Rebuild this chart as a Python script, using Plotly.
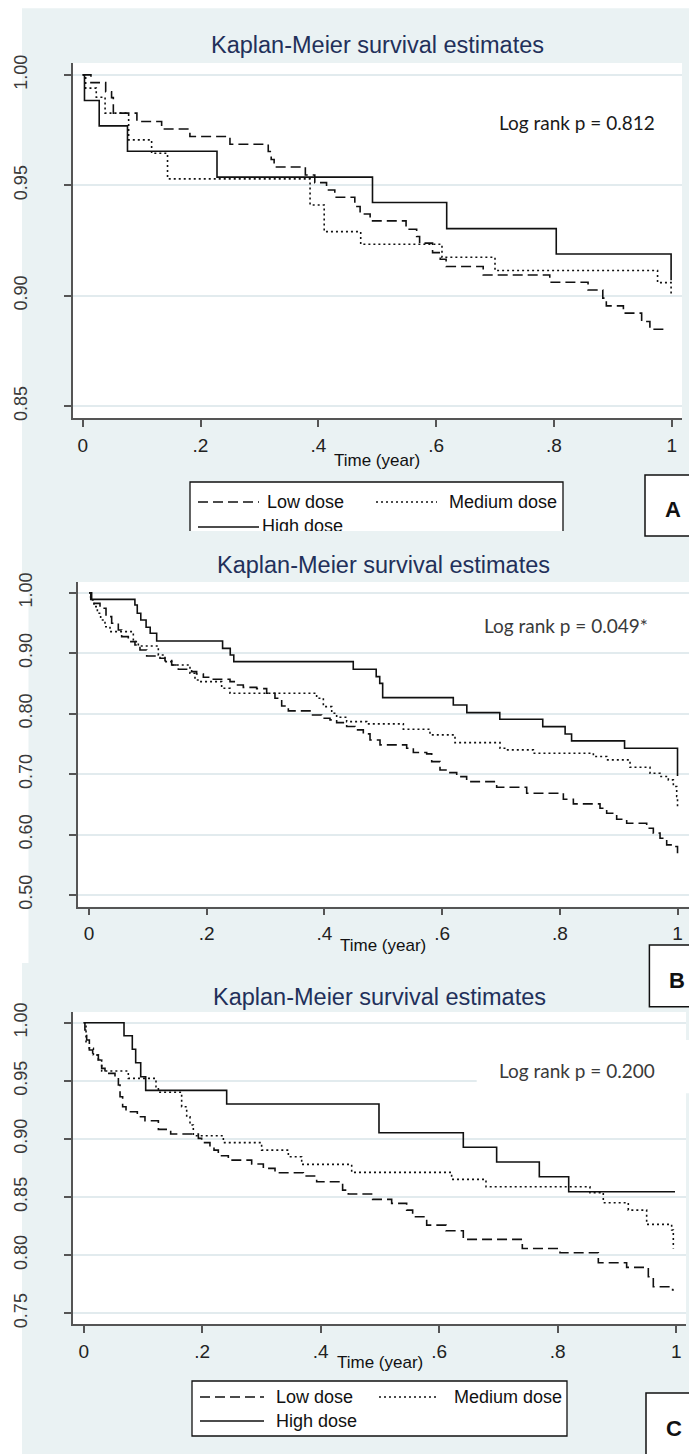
import plotly.graph_objects as go

W, H = 689, 1454
BG = "#EAF2F3"
GRID = "#E2EBEE"
AX = "#555555"
INK = "#111111"
FONT = "Liberation Sans, Arial, sans-serif"
NOTE_FONT = "Lato, Open Sans, sans-serif"
TITLE_COLOR = "#22305A"

# ---------------- data ----------------
time_ticks = [0, 0.2, 0.4, 0.6, 0.8, 1.0]
time_labels = ["0", ".2", ".4", ".6", ".8", "1"]
groups = ["Low dose", "Medium dose", "High dose"]

# Panel A
a_low_t = [0, 0.014, 0.039, 0.049, 0.052, 0.092, 0.134, 0.182, 0.250, 0.315, 0.320, 0.325, 0.378, 0.394,
           0.414, 0.428, 0.462, 0.471, 0.488, 0.549, 0.567, 0.572, 0.594, 0.607, 0.617, 0.680, 0.793,
           0.858, 0.883, 0.889, 0.918, 0.949, 0.963, 0.993]
a_low_s = [1.0, 0.9965, 0.9924, 0.9897, 0.9827, 0.9789, 0.9755, 0.9721, 0.9686, 0.9653, 0.9617, 0.9583,
           0.9547, 0.9512, 0.9479, 0.9446, 0.9404, 0.9370, 0.9339, 0.9301, 0.9268, 0.9238, 0.9195, 0.9165,
           0.9132, 0.9094, 0.9061, 0.9026, 0.8989, 0.8954, 0.8921, 0.8883, 0.8848, 0.8848]
a_med_t = [0, 0.005, 0.023, 0.038, 0.078, 0.117, 0.144, 0.386, 0.410, 0.472, 0.610, 0.700, 0.976, 0.999]
a_med_s = [1.0, 0.9940, 0.9899, 0.9827, 0.9706, 0.9645, 0.9529, 0.9411, 0.9290, 0.9233, 0.9174, 0.9114,
           0.9059, 0.8996]
a_high_t = [0, 0.003, 0.028, 0.076, 0.228, 0.492, 0.618, 0.804, 0.999]
a_high_s = [1.0, 0.9884, 0.9769, 0.9654, 0.9537, 0.9422, 0.9304, 0.9189, 0.9070]
a_yticks = [0.85, 0.90, 0.95, 1.00]
a_ylabels = ["0.85", "0.90", "0.95", "1.00"]
a_note = "Log rank p = 0.812"

# Panel B
b_low_t = [0, 0.0045, 0.0187, 0.0289, 0.0385, 0.0498, 0.0555, 0.0668, 0.0781, 0.0866, 0.0980, 0.1206,
           0.1291, 0.1405, 0.1518, 0.1744, 0.1829, 0.1943, 0.2112, 0.2396, 0.2509, 0.2622, 0.2849, 0.3019,
           0.3160, 0.3274, 0.3387, 0.3755, 0.3953, 0.4095, 0.4208, 0.4378, 0.4520, 0.4661, 0.4775, 0.4945,
           0.5398, 0.5511, 0.5738, 0.5823, 0.5964, 0.6106, 0.6248, 0.6417, 0.6927, 0.7437, 0.8060, 0.8230,
           0.8683, 0.8796, 0.8966, 0.9136, 0.9476, 0.9589, 0.9703, 0.9816, 0.9957, 1.0]
b_low_s = [1.0, 0.9824, 0.9742, 0.9604, 0.9494, 0.9384, 0.9273, 0.9191, 0.9136, 0.9053, 0.8954, 0.8915,
           0.8877, 0.8805, 0.8733, 0.8695, 0.8656, 0.8601, 0.8568, 0.8529, 0.8474, 0.8435, 0.8414, 0.8337,
           0.8254, 0.8127, 0.8045, 0.7978, 0.7923, 0.7896, 0.7852, 0.7786, 0.7731, 0.7665, 0.7565, 0.7483,
           0.7428, 0.7356, 0.7334, 0.7207, 0.7069, 0.7025, 0.6959, 0.6876, 0.6783, 0.6684, 0.6585, 0.6507,
           0.6436, 0.6353, 0.6254, 0.6188, 0.6105, 0.6023, 0.5940, 0.5830, 0.5802, 0.5692]
b_med_t = [0, 0.0028, 0.0085, 0.0142, 0.0198, 0.0272, 0.0357, 0.0753, 0.0838, 0.1178, 0.1291, 0.1405,
           0.1716, 0.1801, 0.1886, 0.2254, 0.2396, 0.3868, 0.3982, 0.4124, 0.4208, 0.4378, 0.4718, 0.5341,
           0.5794, 0.6219, 0.6984, 0.7097, 0.7550, 0.8570, 0.8796, 0.9193, 0.9533, 0.9703, 0.9844, 0.9929,
           0.9986, 1.0]
b_med_s = [1.0, 0.9879, 0.9769, 0.9659, 0.9549, 0.9438, 0.9356, 0.9191, 0.9119, 0.8970, 0.8860, 0.8805,
           0.8667, 0.8557, 0.8529, 0.8419, 0.8337, 0.8254, 0.8116, 0.8006, 0.7940, 0.7868, 0.7830, 0.7742,
           0.7648, 0.7521, 0.7428, 0.7400, 0.7345, 0.7290, 0.7235, 0.7114, 0.7015, 0.6960, 0.6904, 0.6794,
           0.6629, 0.6464]
b_high_t = [0, 0.003, 0.078, 0.082, 0.088, 0.097, 0.104, 0.115, 0.227, 0.240, 0.246, 0.449, 0.488, 0.494,
            0.499, 0.619, 0.642, 0.698, 0.771, 0.809, 0.820, 0.910, 1.0]
b_high_s = [1.0, 0.989, 0.9797, 0.966, 0.9549, 0.9428, 0.9329, 0.920, 0.908, 0.897, 0.886, 0.8734, 0.8612,
            0.850, 0.8264, 0.8144, 0.8017, 0.7907, 0.7785, 0.7664, 0.7549, 0.7428, 0.697]
b_yticks = [0.50, 0.60, 0.70, 0.80, 0.90, 1.00]
b_ylabels = ["0.50", "0.60", "0.70", "0.80", "0.90", "1.00"]
b_note = "Log rank p = 0.049*"

# Panel C
c_low_t = [0, 0.002, 0.005, 0.0095, 0.0151, 0.0247, 0.0303, 0.0359, 0.0528, 0.0585, 0.0613, 0.0657, 0.0714,
           0.0905, 0.1034, 0.1260, 0.1468, 0.1935, 0.1991, 0.2131, 0.2199, 0.2272, 0.2441, 0.2835, 0.3032,
           0.3229, 0.3707, 0.3932, 0.4370, 0.4466, 0.4877, 0.5198, 0.5451, 0.5552, 0.5789, 0.6115, 0.6407,
           0.7403, 0.8039, 0.8686, 0.9164, 0.9530, 0.9614, 0.9940, 0.996]
c_low_s = [1.0, 0.9937, 0.9851, 0.9765, 0.9722, 0.9679, 0.9607, 0.9564, 0.9536, 0.9464, 0.9363, 0.9277,
           0.9234, 0.9191, 0.9157, 0.9082, 0.9042, 0.9005, 0.8968, 0.8933, 0.8904, 0.8856, 0.8818, 0.8784,
           0.8747, 0.8709, 0.8681, 0.8632, 0.8560, 0.8526, 0.8480, 0.8446, 0.8388, 0.8331, 0.8259, 0.8210,
           0.8136, 0.8058, 0.8021, 0.7935, 0.7895, 0.7814, 0.7728, 0.7700, 0.7700]
c_med_t = [0, 0.0039, 0.0095, 0.0163, 0.0247, 0.0303, 0.0753, 0.1220, 0.1260, 0.1653, 0.1738, 0.1794,
           0.1850, 0.2357, 0.3003, 0.3454, 0.3679, 0.4523, 0.6210, 0.6790, 0.8545, 0.8770, 0.9192, 0.9502,
           0.9924, 0.9952]
c_med_s = [1.0, 0.9837, 0.9779, 0.9722, 0.9679, 0.9584, 0.9521, 0.9449, 0.9401, 0.9277, 0.9191, 0.9120,
           0.9028, 0.8968, 0.8904, 0.8847, 0.8781, 0.8712, 0.8652, 0.8589, 0.8537, 0.8451, 0.8388, 0.8265,
           0.8216, 0.8058]
c_high_t = [0, 0.068, 0.082, 0.0877, 0.0962, 0.1046, 0.2413, 0.4984, 0.6407, 0.697, 0.769, 0.8186, 0.998]
c_high_s = [1.0, 0.9888, 0.9771, 0.9656, 0.9535, 0.9418, 0.930, 0.9053, 0.8928, 0.8801, 0.8675, 0.8546,
            0.8546]
c_yticks = [0.75, 0.80, 0.85, 0.90, 0.95, 1.00]
c_ylabels = ["0.75", "0.80", "0.85", "0.90", "0.95", "1.00"]
c_note = "Log rank p = 0.200"

# ---------------- helpers (pixel -> paper) ----------------
def fx(p):
    return p / W


def fy(p):
    return 1 - p / H


DASHES = {"Low dose": "10px,5px", "Medium dose": "2px,3px", "High dose": "solid"}

panels = [
    dict(ax="", plot=(72.7, 63, 682, 418), xr=(-0.017, 1.0175), yr=(0.8446, 1.0054),
         yt=a_yticks, yl=a_ylabels,
         series=[(a_low_t, a_low_s), (a_med_t, a_med_s), (a_high_t, a_high_s)],
         title=(377.4, 45), xtitle=(377.4, 460), note=a_note, note_pos=(496.5, 123), note_color="#1a1a1a"),
    dict(ax="2", plot=(77.7, 582, 689, 906.7), xr=(-0.0192, 1.0195), yr=(0.4807, 1.0177),
         yt=b_yticks, yl=b_ylabels,
         series=[(b_low_t, b_low_s), (b_med_t, b_med_s), (b_high_t, b_high_s)],
         title=(383, 565), xtitle=(383, 945), note=b_note, note_pos=(481.5, 625), note_color="#3a3a3a"),
    dict(ax="3", plot=(72.7, 1012, 686, 1324), xr=(-0.0186, 1.0166), yr=(0.7408, 1.0092),
         yt=c_yticks, yl=c_ylabels,
         series=[(c_low_t, c_low_s), (c_med_t, c_med_s), (c_high_t, c_high_s)],
         title=(379.5, 997), xtitle=(380, 1362), note=c_note, note_pos=(497, 1070), note_color="#3a3a3a"),
]

fig = go.Figure()
shapes = []
annotations = []
layout_axes = {}

# panel backgrounds (screenshots of Stata graphs)
for (x0, y0, x1, y1) in [(22, 8.3, 689, 581), (28.5, 581, 689, 963), (22, 963, 689, 1454)]:
    shapes.append(dict(type="rect", xref="paper", yref="paper", x0=fx(x0), x1=fx(x1), y0=fy(y1), y1=fy(y0),
                       fillcolor=BG, line=dict(width=0), layer="below"))

for p in panels:
    ax = p["ax"]
    x0, y0, x1, y1 = p["plot"]
    shapes.append(dict(type="rect", xref="paper", yref="paper", x0=fx(x0), x1=fx(x1), y0=fy(y1), y1=fy(y0),
                       fillcolor="white", line=dict(width=0), layer="below"))
    for g, (t, s) in zip(groups, p["series"]):
        fig.add_trace(go.Scatter(
            x=t, y=s, mode="lines", name=g, showlegend=False, hoverinfo="skip",
            line=dict(shape="hv", color=INK, width=1.6, dash=DASHES[g]),
            xaxis="x" + ax, yaxis="y" + ax))
    layout_axes["xaxis" + ax] = dict(
        domain=[fx(x0), fx(x1)], range=list(p["xr"]), anchor="y" + ax,
        tickvals=time_ticks, ticktext=time_labels, showgrid=False, zeroline=False,
        showline=True, linecolor=AX, linewidth=1.5, ticks="outside", ticklen=7, tickwidth=1.5,
        tickcolor=AX, tickfont=dict(family=FONT, size=19, color="#222"), ticklabelstandoff=2,
        automargin=False, fixedrange=True)
    layout_axes["yaxis" + ax] = dict(
        domain=[fy(y1), fy(y0)], range=list(p["yr"]), anchor="x" + ax,
        tickvals=p["yt"], ticktext=p["yl"], tickangle=-90, showgrid=True, gridcolor=GRID, gridwidth=1.5,
        zeroline=False, showline=True, linecolor=AX, linewidth=1.5, ticks="outside", ticklen=7,
        tickwidth=1.5, tickcolor=AX, tickfont=dict(family=FONT, size=18, color="#3a3a3a"),
        ticklabelstandoff=30, automargin=False, fixedrange=True)
    tx, ty = p["title"]
    annotations.append(dict(text="Kaplan-Meier survival estimates", xref="paper", yref="paper",
                            x=fx(tx), y=fy(ty), xanchor="center", yanchor="middle", showarrow=False,
                            font=dict(family=FONT, size=23.5, color=TITLE_COLOR)))
    xx, xy = p["xtitle"]
    annotations.append(dict(text="Time (year)", xref="paper", yref="paper", x=fx(xx), y=fy(xy),
                            xanchor="center", yanchor="middle", showarrow=False,
                            font=dict(family=FONT, size=17, color="#111")))
    nx, ny = p["note_pos"]
    annotations.append(dict(text=p["note"], xref="paper", yref="paper", x=fx(nx), y=fy(ny),
                            xanchor="left", yanchor="middle", showarrow=False,
                            font=dict(family=NOTE_FONT, size=19, color=p["note_color"])))

# white patch behind the panel C note
shapes.append(dict(type="rect", xref="paper", yref="paper", x0=fx(476.7), x1=fx(689), y0=fy(1093.3),
                   y1=fy(1040), fillcolor="white", line=dict(width=0), layer="above"))


# legends
def legend_rows(x_sample, x_text, x2_sample, x2_text, row1, row2):
    return [("Low dose", x_sample, x_text, row1),
            ("Medium dose", x2_sample, x2_text, row1),
            ("High dose", x_sample, x_text, row2)]


def add_legend(box, items, clip_bottom=None):
    bx0, by0, bx1, by1 = box
    if clip_bottom is None:
        shapes.append(dict(type="rect", xref="paper", yref="paper", x0=fx(bx0), x1=fx(bx1), y0=fy(by1),
                           y1=fy(by0), fillcolor="white", line=dict(color="#111", width=1.3), layer="below"))
    else:
        shapes.append(dict(type="rect", xref="paper", yref="paper", x0=fx(bx0), x1=fx(bx1),
                           y0=fy(clip_bottom), y1=fy(by0), fillcolor="white", line=dict(width=0),
                           layer="below"))
        path = "M{},{} L{},{} L{},{} L{},{}".format(fx(bx0), fy(clip_bottom), fx(bx0), fy(by0), fx(bx1),
                                                    fy(by0), fx(bx1), fy(clip_bottom))
        shapes.append(dict(type="path", xref="paper", yref="paper", path=path,
                           line=dict(color="#111", width=1.3)))
    for name, (sx0, sx1), tx, ry in items:
        shapes.append(dict(type="line", xref="paper", yref="paper", x0=fx(sx0), x1=fx(sx1), y0=fy(ry),
                           y1=fy(ry), line=dict(color=INK, width=1.6, dash=DASHES[name])))
        if clip_bottom is not None and name == "High dose":
            continue
        annotations.append(dict(text=name, xref="paper", yref="paper", x=fx(tx), y=fy(ry), xanchor="left",
                                yanchor="middle", showarrow=False, font=dict(family=FONT, size=18, color="#111")))


# Panel A legend (cut off by panel B screenshot)
add_legend((190, 482, 563, 540),
           legend_rows((198, 259), 265, (376, 437), 447, 502, 527), clip_bottom=531)
# Panel C legend
add_legend((192, 1381, 567, 1436),
           legend_rows((200, 264), 274, (379, 439), 451.5, 1397, 1421))

# clipped "High dose" label of panel A legend, drawn in a hidden helper axis so it is cut at the panel edge
fig.add_trace(go.Scatter(x=[262], y=[527], mode="text", text=["High dose"], textposition="middle right",
                         textfont=dict(family=FONT, size=18, color="#111"), cliponaxis=True,
                         showlegend=False, hoverinfo="skip", xaxis="x4", yaxis="y4"))
layout_axes["xaxis4"] = dict(domain=[0, 1], range=[0, W], visible=False, anchor="y4", fixedrange=True)
layout_axes["yaxis4"] = dict(domain=[fy(531), fy(470)], range=[531, 470], visible=False, anchor="x4",
                             fixedrange=True)

# panel letters
for letter, (bx0, by0, bx1, by1), (lx, ly) in [("A", (645, 475, 695, 536), (673.3, 509.5)),
                                               ("B", (649.4, 945, 695, 1006.7), (677, 980)),
                                               ("C", (646, 1393, 695, 1460), (674, 1428))]:
    shapes.append(dict(type="rect", xref="paper", yref="paper", x0=fx(bx0), x1=fx(bx1), y0=fy(by1),
                       y1=fy(by0), fillcolor="white", line=dict(color="#111", width=1.5)))
    annotations.append(dict(text="<b>" + letter + "</b>", xref="paper", yref="paper", x=fx(lx), y=fy(ly),
                            xanchor="center", yanchor="middle", showarrow=False,
                            font=dict(family=FONT, size=22, color="#111")))

fig.update_layout(
    width=W, height=H, margin=dict(l=0, r=0, t=0, b=0),
    paper_bgcolor="white", plot_bgcolor="white", showlegend=False,
    shapes=shapes, annotations=annotations, **layout_axes)

fig.write_html("out.html", config={"displayModeBar": False},
               post_script="document.body.style.margin='0';document.body.style.overflow='hidden';")
